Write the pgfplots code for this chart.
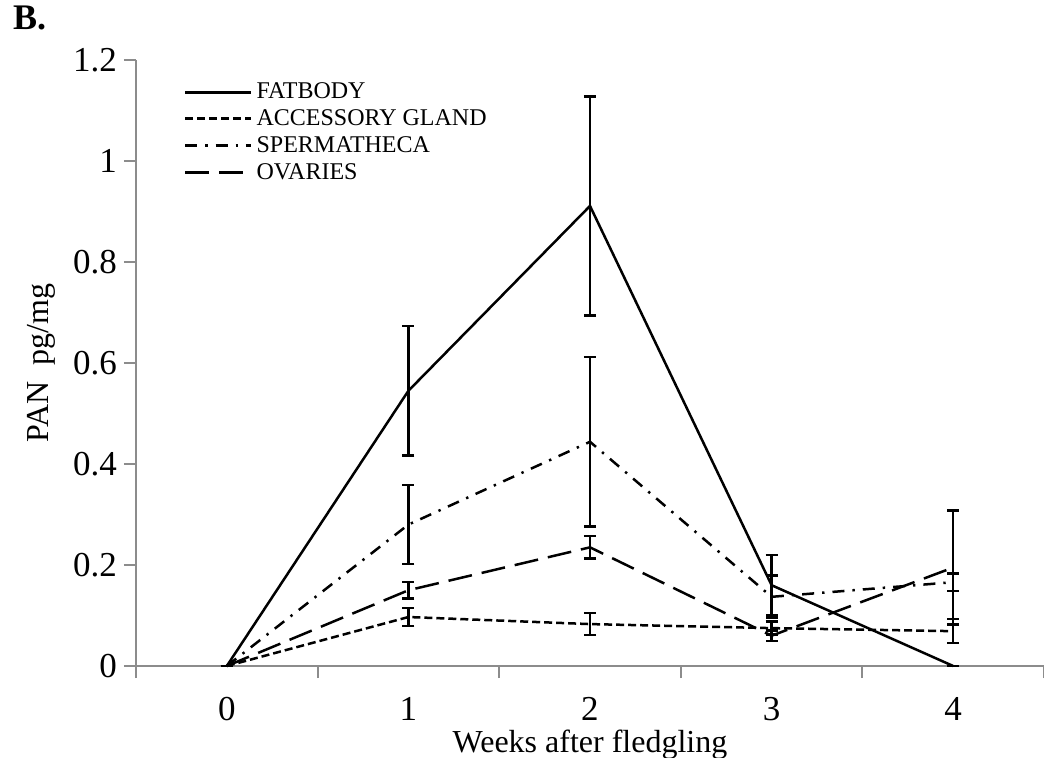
\documentclass[border=0pt]{standalone}
\usepackage{pgfplots}
\pgfplotsset{compat=1.18}
\usepackage{fontspec}
\setmainfont{Liberation Serif}
\pgfplotstableread{
x y e
0 0 0
1 0.545 0.128
2 0.911 0.217
3 0.160 0.060
4 0.000 0
}\fatbody
\pgfplotstableread{
x y e
0 0 0
1 0.097 0.018
2 0.083 0.022
3 0.075 0.013
4 0.069 0.024
}\accessory
\pgfplotstableread{
x y e
0 0 0
1 0.280 0.078
2 0.444 0.168
3 0.137 0.042
4 0.166 0.017
}\sperm
\pgfplotstableread{
x y e
0 0 0
1 0.150 0.016
2 0.235 0.022
3 0.060 0.010
4 0.195 0.113
}\ovaries
\begin{document}
\begin{tikzpicture}
\useasboundingbox (-68pt,-45.5pt) rectangle (454pt,333pt);
\begin{axis}[
  scale only axis, width=454pt, height=303pt,
  xmin=-0.5, xmax=4.5, ymin=0, ymax=1.2,
  axis lines*=left,
  axis line style={draw=gray!90, line width=1pt},
  clip=false,
  xtick={0,1,2,3,4},
  minor xtick={-0.5,0.5,1.5,2.5,3.5,4.5},
  major x tick style={draw=none},
  minor tick length=6pt,
  major tick length=6pt,
  tick align=outside,
  every tick/.style={draw=gray!90, line width=1pt},
  ytick={0,0.2,0.4,0.6,0.8,1,1.2},
  yticklabels={0,0.2,0.4,0.6,0.8,1,1.2},
  tick label style={font=\fontsize{17.5}{20}\selectfont},
  xticklabel style={yshift=-6pt},
  /pgf/number format/assume math mode=true,
  xlabel={Weeks after fledgling},
  ylabel={PAN\enspace pg/mg},
  label style={font=\fontsize{16}{18}\selectfont},
  xlabel style={at={(rel axis cs:0.5,0)}, anchor=center, yshift=-39.5pt},
  ylabel style={yshift=2pt},
  legend style={at={(rel axis cs:0.052,0.97)}, anchor=north west, draw=none, fill=none,
    font=\fontsize{12}{13}\selectfont, row sep=0pt, cells={anchor=west},
    inner sep=0pt},
  legend image code/.code={\draw[#1, line width=1.5pt] (0pt,0pt) -- (33pt,0pt);},
  error bars/error bar style={line width=1.2pt, solid},
  error bars/error mark options={rotate=90, mark size=3pt, line width=1.2pt, solid},
]
\addplot[black, line width=1.25pt, error bars/.cd, y dir=both, y explicit]
  table[x=x, y=y, y error=e] {\fatbody};
\addlegendentry{FATBODY}
\addplot[black, line width=1.25pt, dash pattern=on 4pt off 2pt, error bars/.cd, y dir=both, y explicit]
  table[x=x, y=y, y error=e] {\accessory};
\addlegendentry{ACCESSORY GLAND}
\addplot[black, line width=1.25pt, dash pattern=on 6pt off 4pt on 1.2pt off 4pt, error bars/.cd, y dir=both, y explicit]
  table[x=x, y=y, y error=e] {\sperm};
\addlegendentry{SPERMATHECA}
\addplot[black, line width=1.25pt, dash pattern=on 12pt off 5pt, error bars/.cd, y dir=both, y explicit]
  table[x=x, y=y, y error=e] {\ovaries};
\addlegendentry{OVARIES}
\end{axis}
\node[anchor=west, font=\fontsize{18}{20}\selectfont\bfseries] at (-65pt,324pt) {B.};
\end{tikzpicture}
\end{document}
